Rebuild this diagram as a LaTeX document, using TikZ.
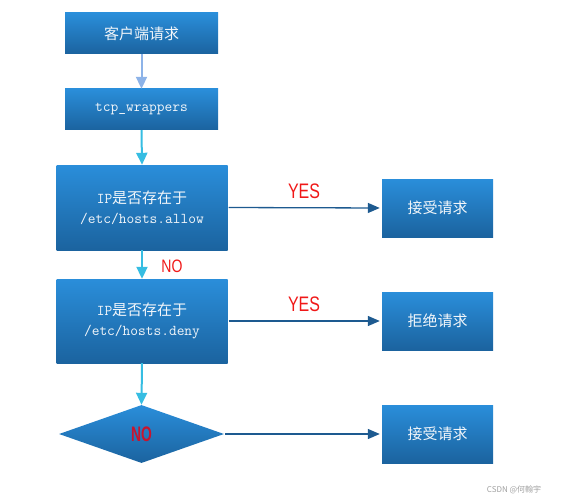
\documentclass[tikz,border=0pt]{standalone}
\usepackage{fontspec}
\usepackage{graphicx}
\setmainfont{Liberation Sans}
\newfontfamily\cjk{Noto Sans CJK SC}
\usetikzlibrary{arrows.meta,shapes.geometric}
\definecolor{boxtop}{HTML}{2A8EDA}
\definecolor{boxbot}{HTML}{1B639F}
\definecolor{arrlight}{HTML}{8DB3E8}
\definecolor{arrcyan}{HTML}{36BDE2}
\definecolor{arrdark}{HTML}{1D5A90}
\definecolor{yesred}{HTML}{F01818}
\definecolor{nored}{HTML}{C8142E}
\definecolor{wmgray}{HTML}{A0A0A0}
\definecolor{boxtext}{HTML}{F2F6FA}
\tikzset{
  bluebox/.style={rectangle, top color=boxtop, bottom color=boxbot, draw=none,
    text=boxtext, align=center, inner sep=0pt,
    font=\fontsize{15}{19}\selectfont},
  vflow/.style={line width=2pt, -{Triangle[length=12pt,width=11pt]}},
  hflow/.style={arrdark, line width=1.3pt, -{Triangle[length=12pt,width=10pt]},
    shorten <=1pt, shorten >=2pt},
  redlabel/.style={text=yesred, inner sep=0pt},
}
\begin{document}
\begin{tikzpicture}[x=1pt,y=-1pt]
\useasboundingbox (0,0) rectangle (562,500);
\node[bluebox, minimum width=153pt, minimum height=41pt] (b1) at (141.5,33.5) {\cjk 客户端请求};
\node[bluebox, minimum width=153pt, minimum height=41pt] (b2) at (141.5,109.5) {\ttfamily tcp\_wrappers};
\node[bluebox, minimum width=171pt, minimum height=85pt] (b3) at (142,207.5)
  {{\ttfamily IP}{\cjk 是否存在于}\\[1pt]{\ttfamily /etc/hosts.allow}};
\node[bluebox, minimum width=171pt, minimum height=84pt] (b4) at (142,321)
  {{\ttfamily IP}{\cjk 是否存在于}\\[1pt]{\ttfamily /etc/hosts.deny}};
\node[diamond, top color=boxtop, bottom color=boxbot, draw=none, inner sep=0pt,
  minimum width=165pt, minimum height=58pt, aspect=2.84,
  text=nored, font=\bfseries\fontsize{21}{21}\selectfont] (d) at (141.5,434) {\scalebox{0.66}[1]{NO}};
\node[bluebox, minimum width=111pt, minimum height=58pt] (r1) at (437.5,208) {\cjk 接受请求};
\node[bluebox, minimum width=111pt, minimum height=58pt] (r2) at (437.5,321) {\cjk 拒绝请求};
\node[bluebox, minimum width=111pt, minimum height=58pt] (r3) at (437.5,434) {\cjk 接受请求};

\draw[vflow, arrlight] (b1.south) -- (b2.north);
\draw[vflow, arrcyan] (b2.south) -- (b3.north);
\draw[vflow, arrcyan] (b3.south) -- (b4.north);
\draw[vflow, arrcyan] (b4.south) -- (d.north);

\draw[hflow] (b3.east) -- (r1.west);
\draw[hflow] (b4.east |- r2.west) -- (r2.west);
\draw[hflow] (d.east) -- (r3.west);

\node[redlabel, font=\fontsize{21}{21}\selectfont] (y1) at (304,191.5) {\scalebox{0.76}[1]{YES}};
\node[redlabel, font=\fontsize{21}{21}\selectfont] (y2) at (304,304.5) {\scalebox{0.76}[1]{YES}};
\node[redlabel, font=\fontsize{18}{18}\selectfont] (n1) at (172,266) {\scalebox{0.78}[1]{NO}};
\node[text=wmgray, font=\cjk\fontsize{8}{8}\selectfont, inner sep=0pt] (wm) at (514,490) {CSDN @何翰宇};
\end{tikzpicture}
\end{document}
